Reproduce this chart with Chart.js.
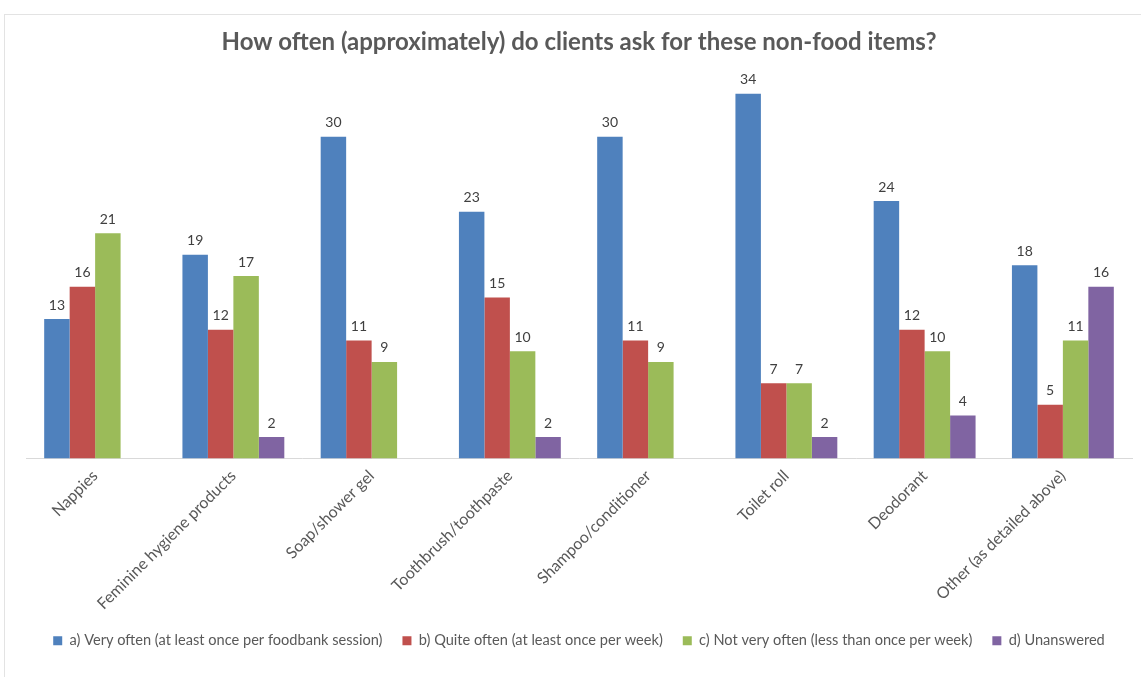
<!DOCTYPE html>
<html>
<head>
<meta charset="utf-8">
<script src="https://cdn.jsdelivr.net/npm/chart.js@4"></script>
<style>
  html, body { margin: 0; padding: 0; background: #fff; }
  #wrap { position: absolute; left: 0; top: 0; width: 1141px; height: 677px; }
  #frame { position: absolute; left: 4px; top: 14px; width: 1150px; height: 670px; border: 1px solid #e3e3e3; }
</style>
</head>
<body>
<div id="frame"></div>
<div id="wrap"><canvas id="chartNonFood"></canvas></div>
<script>
// Catégories et séries
const categories = ['Nappies', 'Feminine hygiene products', 'Soap/shower gel', 'Toothbrush/toothpaste',
    'Shampoo/conditioner', 'Toilet roll', 'Deodorant', 'Other (as detailed above)'];
const seriesLabels = ['a) Very often (at least once per foodbank session)', 'b) Quite often (at least once per week)',
    'c) Not very often (less than once per week)', 'd) Unanswered'];
const veryOften = [13, 19, 30, 23, 30, 34, 24, 18];
const quiteOften = [16, 12, 11, 15, 11, 7, 12, 5];
const notVeryOften = [21, 17, 9, 10, 9, 7, 10, 11];
const unanswered = [null, 2, null, 2, null, 2, 4, 16];
const colors = ['#4f81bd', '#c0504d', '#9bbb59', '#8064a2'];

const FONT = 'Lato, "Open Sans", sans-serif';

// Affiche la valeur au-dessus de chaque barre
const valueLabels = {
    id: 'valueLabels',
    afterDatasetsDraw(chart) {
        const ctx = chart.ctx;
        ctx.save();
        ctx.font = '14px ' + FONT;
        ctx.fillStyle = '#404040';
        ctx.textAlign = 'center';
        ctx.textBaseline = 'bottom';
        chart.data.datasets.forEach((ds, i) => {
            const meta = chart.getDatasetMeta(i);
            meta.data.forEach((bar, j) => {
                const v = ds.data[j];
                if (v === null || v === undefined) return;
                ctx.fillText(v, bar.x, bar.y - 7);
            });
        });
        ctx.restore();
    }
};

const allSeries = [veryOften, quiteOften, notVeryOften, unanswered];

const canvas = document.getElementById('chartNonFood');
new Chart(canvas, {
    type: 'bar',
    data: {
        labels: categories,
        datasets: allSeries.map((data, i) => ({
            label: seriesLabels[i],
            data: data,
            backgroundColor: colors[i],
            borderWidth: 0,
            categoryPercentage: 0.737,
            barPercentage: 1
        }))
    },
    options: {
        responsive: true,
        maintainAspectRatio: false,
        animation: false,
        layout: { padding: { left: 26, right: 9, top: 18, bottom: 19 } },
        plugins: {
            title: {
                display: true,
                text: 'How often (approximately) do clients ask for these non-food items?',
                color: '#595959',
                font: { family: FONT, size: 24, weight: 'bold' },
                padding: { top: 10, bottom: 8 }
            },
            legend: {
                position: 'bottom',
                labels: {
                    color: '#595959',
                    font: { family: FONT, size: 14.6 },
                    boxWidth: 9,
                    boxHeight: 9,
                    padding: 20
                }
            },
            tooltip: { enabled: false }
        },
        scales: {
            y: {
                display: false,
                min: 0,
                max: 36.7
            },
            x: {
                grid: { display: false },
                border: { color: '#d9d9d9' },
                ticks: {
                    color: '#595959',
                    font: { family: FONT, size: 16 },
                    minRotation: 45,
                    maxRotation: 45,
                    padding: 0
                }
            }
        }
    },
    plugins: [valueLabels]
});
</script>
</body>
</html>
